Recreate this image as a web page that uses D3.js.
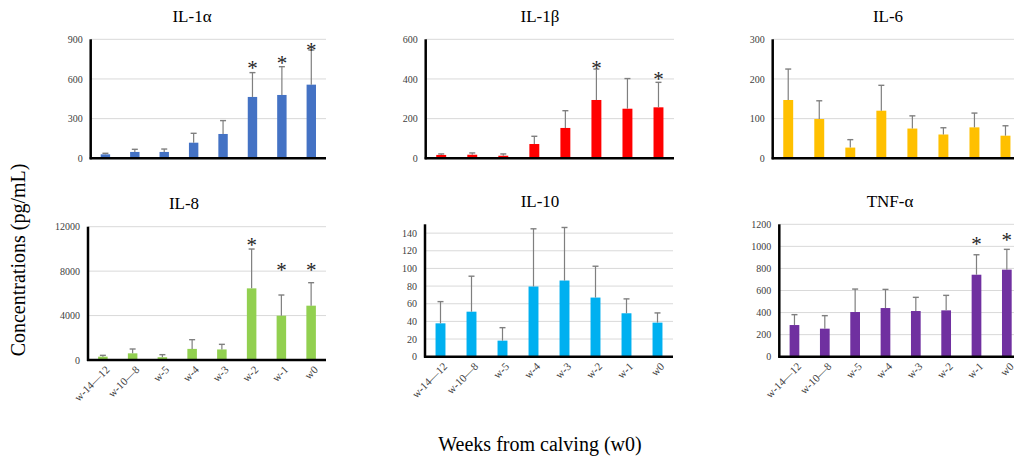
<!DOCTYPE html>
<html>
<head>
<meta charset="utf-8">
<script src="https://cdn.jsdelivr.net/npm/d3@7"></script>
<style>
  html, body { margin: 0; padding: 0; background: #fff; }
  svg { display: block; }
  text { font-family: "Liberation Serif", "Times New Roman", serif; }
</style>
</head>
<body>
<svg id="chart" width="1014" height="460"></svg>
<script>
// ---- Data ----
const weeks = ["w-14\u201412", "w-10\u20148", "w-5", "w-4", "w-3", "w-2", "w-1", "w0"];

const il1aMean = [30, 48, 48, 118, 184, 464, 479, 557];
const il1aErr  = [38, 68, 70, 189, 285, 648, 693, 819];
const il1aStar = [null, null, null, null, null, 706, 743, 844];

const il1bMean = [17, 18, 13, 72, 153, 294, 250, 257];
const il1bErr  = [22, 27, 22, 111, 240, 450, 402, 383];
const il1bStar = [null, null, null, null, null, 470, null, 415];

const il6Mean = [147, 99, 27, 120, 75, 60, 78, 57];
const il6Err  = [225, 145, 47, 184, 107, 77, 114, 82];
const il6Star = [null, null, null, null, null, null, null, null];

const il8Mean = [300, 600, 250, 1000, 950, 6450, 3990, 4890];
const il8Err  = [420, 990, 480, 1830, 1410, 9990, 5850, 6960];
const il8Star = [null, null, null, null, null, 10650, 8345, 8345];

const il10Mean = [37.8, 51, 18.2, 79.5, 86.3, 67, 49.2, 38.6];
const il10Err  = [62.4, 91.2, 32.9, 144.9, 146.4, 102.5, 65.5, 49.6];
const il10Star = [null, null, null, null, null, null, null, null];

const tnfMean = [287, 254, 405, 441, 414, 420, 743, 789];
const tnfErr  = [381, 372, 613, 610, 538, 556, 924, 973];
const tnfStar = [null, null, null, null, null, null, 1049, 1082];

const il1aTicks = [0, 300, 600, 900];
const il1bTicks = [0, 200, 400, 600];
const il6Ticks  = [0, 100, 200, 300];
const il8Ticks  = [0, 4000, 8000, 12000];
const il10Ticks = [0, 20, 40, 60, 80, 100, 120, 140];
const tnfTicks  = [0, 200, 400, 600, 800, 1000, 1200];

// ---- Layout ----
const panels = [
  {title: "IL-1\u03b1", mean: il1aMean, err: il1aErr, star: il1aStar, ticks: il1aTicks, max: 900,
   color: "#4472C4", x0: 90.7, x1: 326, yTop: 39.3, yBot: 158.3, tx: 192, ty: 22, xlabels: false},
  {title: "IL-1\u03b2", mean: il1bMean, err: il1bErr, star: il1bStar, ticks: il1bTicks, max: 600,
   color: "#FF0000", x0: 425.7, x1: 674, yTop: 39.3, yBot: 158.3, tx: 540, ty: 22, xlabels: false},
  {title: "IL-6", mean: il6Mean, err: il6Err, star: il6Star, ticks: il6Ticks, max: 300,
   color: "#FFC000", x0: 772.7, x1: 1021, yTop: 39.3, yBot: 158.3, tx: 888, ty: 22, xlabels: false},
  {title: "IL-8", mean: il8Mean, err: il8Err, star: il8Star, ticks: il8Ticks, max: 12000,
   color: "#92D050", x0: 88, x1: 326, yTop: 226.7, yBot: 360, tx: 184, ty: 209, xlabels: true},
  {title: "IL-10", mean: il10Mean, err: il10Err, star: il10Star, ticks: il10Ticks, max: 150,
   color: "#00B0F0", x0: 425, x1: 673, yTop: 224.3, yBot: 356.7, tx: 540, ty: 207, xlabels: true},
  {title: "TNF-\u03b1", mean: tnfMean, err: tnfErr, star: tnfStar, ticks: tnfTicks, max: 1200,
   color: "#7030A0", x0: 779.3, x1: 1022, yTop: 224.3, yBot: 356.7, tx: 890, ty: 207, xlabels: true}
];

const svg = d3.select("#chart");

panels.forEach(p => {
  const g = svg.append("g");
  const x = d3.scaleBand().domain(weeks).range([p.x0, p.x1]).paddingInner(0.68).paddingOuter(0.34);
  const y = d3.scaleLinear().domain([0, p.max]).range([p.yBot, p.yTop]);

  // gridlines
  g.selectAll(".grid").data(p.ticks.filter(t => t > 0)).join("line")
    .attr("x1", p.x0).attr("x2", p.x1)
    .attr("y1", d => y(d)).attr("y2", d => y(d))
    .attr("stroke", "#d9d9d9").attr("stroke-width", 1);

  // y tick labels
  const yAxis = d3.axisLeft(y).tickValues(p.ticks).tickSize(0).tickPadding(8).tickFormat(d3.format("d"));
  const ya = g.append("g").attr("transform", `translate(${p.x0},0)`).call(yAxis);
  ya.select(".domain").remove();
  ya.selectAll("text").attr("font-family", "Liberation Serif, serif").attr("font-size", 10).attr("fill", "#404040");

  // bars
  g.selectAll(".bar").data(p.mean).join("rect")
    .attr("x", (d, i) => x(weeks[i]))
    .attr("width", x.bandwidth())
    .attr("y", d => y(d))
    .attr("height", d => p.yBot - y(d))
    .attr("fill", p.color);

  // error bars
  const cx = i => x(weeks[i]) + x.bandwidth() / 2;
  g.selectAll(".err").data(p.err).join("line")
    .attr("x1", (d, i) => cx(i)).attr("x2", (d, i) => cx(i))
    .attr("y1", (d, i) => y(p.mean[i])).attr("y2", d => y(d))
    .attr("stroke", "#7f7f7f").attr("stroke-width", 1.2);
  g.selectAll(".cap").data(p.err).join("line")
    .attr("x1", (d, i) => cx(i) - 3).attr("x2", (d, i) => cx(i) + 3)
    .attr("y1", d => y(d)).attr("y2", d => y(d))
    .attr("stroke", "#7f7f7f").attr("stroke-width", 1.4);

  // stars
  g.selectAll(".star").data(p.star.map((s, i) => ({s, i})).filter(d => d.s !== null)).join("text")
    .attr("x", d => cx(d.i))
    .attr("y", d => y(d.s) + 10)
    .attr("text-anchor", "middle")
    .attr("font-size", 21)
    .attr("fill", "#262626")
    .text("*");

  // axes lines
  g.append("line").attr("x1", p.x0).attr("x2", p.x0).attr("y1", p.yTop).attr("y2", p.yBot + 1)
    .attr("stroke", "#000").attr("stroke-width", 2.5);
  g.append("line").attr("x1", p.x0 - 1).attr("x2", p.x1).attr("y1", p.yBot).attr("y2", p.yBot)
    .attr("stroke", "#000").attr("stroke-width", 2.5);

  // x labels
  if (p.xlabels) {
    g.selectAll(".xl").data(weeks).join("text")
      .attr("transform", (d, i) => `translate(${cx(i) + 2},${p.yBot + 5}) rotate(-45)`)
      .attr("text-anchor", "end")
      .attr("dy", "0.7em")
      .attr("font-size", 11)
      .attr("fill", "#404040")
      .text(d => d);
  }

  // title
  g.append("text").attr("x", p.tx).attr("y", p.ty)
    .attr("text-anchor", "middle").attr("font-size", 17).attr("fill", "#000")
    .text(p.title);
});

// global axis titles
svg.append("text")
  .attr("transform", "translate(25,260) rotate(-90)")
  .attr("text-anchor", "middle").attr("font-size", 20).attr("fill", "#000")
  .text("Concentrations (pg/mL)");
svg.append("text")
  .attr("x", 540).attr("y", 451)
  .attr("text-anchor", "middle").attr("font-size", 20).attr("fill", "#000")
  .text("Weeks from calving (w0)");
</script>
</body>
</html>
